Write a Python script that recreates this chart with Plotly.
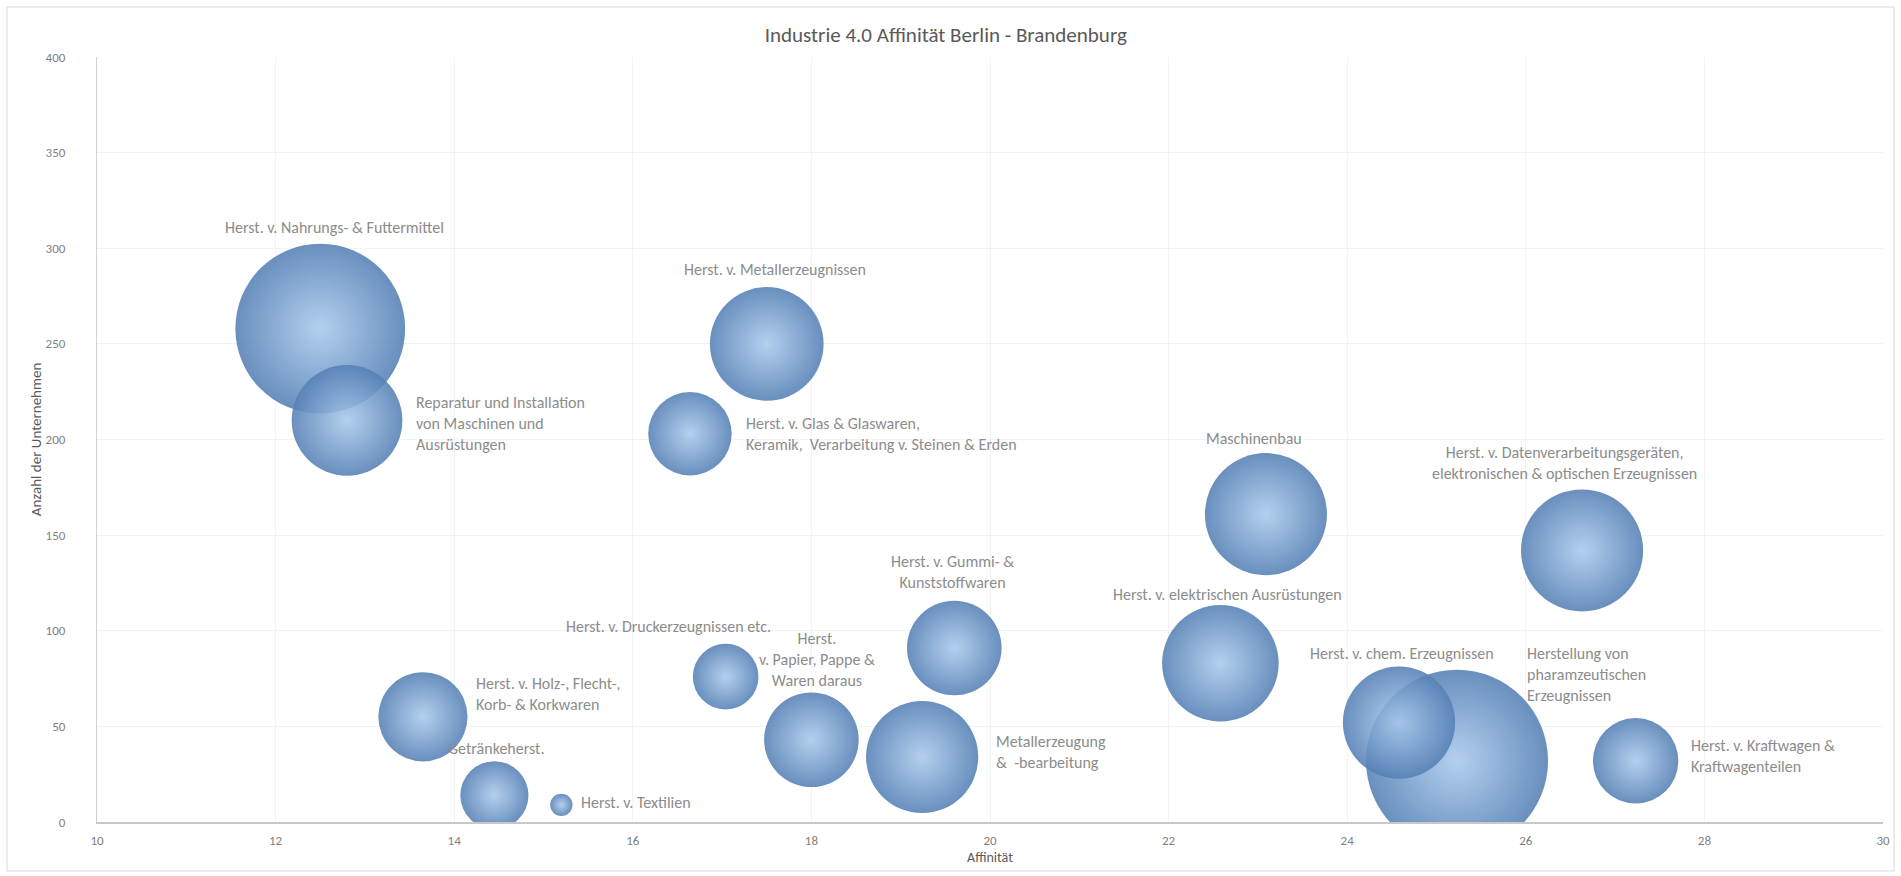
import plotly.graph_objects as go

# Branchen (Wirtschaftszweige) mit Affinität, Anzahl der Unternehmen und Blasengröße
branchen = [
    "Herstellung von<br>pharamzeutischen<br>Erzeugnissen",
    "Herst. v. Nahrungs- & Futtermittel",
    "Maschinenbau",
    "Herst. v. Datenverarbeitungsgeräten,<br>elektronischen & optischen Erzeugnissen",
    "Herst. v. elektrischen Ausrüstungen",
    "Herst. v. Metallerzeugnissen",
    "Metallerzeugung<br>&  -bearbeitung",
    "Herst. v. chem. Erzeugnissen",
    "Reparatur und Installation<br>von Maschinen und<br>Ausrüstungen",
    "Herst. v. Papier, Pappe &<br>Waren daraus",
    "Herst. v. Gummi- &<br>Kunststoffwaren",
    "Herst. v. Holz-, Flecht-,<br>Korb- & Korkwaren",
    "Herst. v. Kraftwagen &<br>Kraftwagenteilen",
    "Herst. v. Glas & Glaswaren,<br>Keramik,  Verarbeitung v. Steinen & Erden",
    "Getränkeherst.",
    "Herst. v. Druckerzeugnissen etc.",
    "Herst. v. Textilien",
]
affinitaet = [25.23, 12.50, 23.09, 26.63, 22.58, 17.50, 19.24, 24.58, 12.80,
              18.00, 19.60, 13.65, 27.23, 16.64, 14.45, 17.04, 15.20]
anzahl = [32, 258, 161, 142, 83, 250, 34, 52, 210,
          43, 91, 55, 32, 203, 14, 76, 9]
groesse = [100, 87, 45, 45, 41, 39, 38, 38, 37,
           27, 27, 24, 22, 21, 14, 13, 1.5]

# Label-Platzierung relativ zur Blase: (Anker, Versatz x in px, Versatz y in px)
label_pos = [
    ("left", 68, 86),
    ("center", 14, 101),
    ("center", -12, 76),
    ("center", -18, 87),
    ("center", 7, 69),
    ("center", 8, 74),
    ("left", 72, 5),
    ("center", 3, 69),
    ("left", 67, -3),
    ("center", 6, 80),
    ("center", -2, 76),
    ("left", 51, 23),
    ("left", 53, 5),
    ("left", 54, 0),
    ("center", 2, 47),
    ("center", -57, 50),
    ("left", 18, 2),
]
# Beim Papier-Label steht "Herst." in einer eigenen Zeile
label_text = list(branchen)
label_text[9] = "Herst.<br>v. Papier, Pappe &<br>Waren daraus"

FONT = "Calibri, Carlito, Lato, sans-serif"
MAX_D = 182  # Durchmesser der größten Blase in px

fig = go.Figure()
fig.add_trace(go.Scatter(
    x=affinitaet,
    y=anzahl,
    mode="markers",
    text=branchen,
    hoverinfo="text+x+y",
    cliponaxis=True,
    marker=dict(
        size=groesse,
        sizemode="area",
        sizeref=2.0 * max(groesse) / MAX_D ** 2,
        color="#5580b5",
        gradient=dict(type="radial", color="#a9c9ec"),
        opacity=0.88,
        line=dict(width=0),
    ),
    showlegend=False,
))

for txt, xv, yv, (anchor, dx, dy) in zip(label_text, affinitaet, anzahl, label_pos):
    fig.add_annotation(
        x=xv, y=yv, xref="x", yref="y",
        text=txt, showarrow=False,
        xanchor=anchor, yanchor="middle", align=anchor,
        xshift=dx, yshift=dy,
        font=dict(family=FONT, size=16, color="#8c8c8c"),
    )

fig.update_layout(
    width=1901, height=876,
    margin=dict(l=97, r=18, t=57, b=54),
    paper_bgcolor="white", plot_bgcolor="white",
    font=dict(family=FONT, color="#7f7f7f"),
    title=dict(
        text="Industrie 4.0 Affinität Berlin - Brandenburg",
        x=0.4975, xanchor="center", y=0.96, yanchor="middle",
        font=dict(family=FONT, size=21, color="#595959"),
    ),
    xaxis=dict(
        range=[10, 30], dtick=2, tick0=10,
        showgrid=True, gridcolor="#f3f3f3", gridwidth=1,
        zeroline=False, showline=True, linecolor="#c8c8c8", linewidth=1.5,
        ticks="", ticklabelstandoff=6,
        tickfont=dict(family=FONT, size=13, color="#7f7f7f"),
        title=dict(text="Affinität", standoff=5,
                   font=dict(family=FONT, size=14, color="#595959")),
    ),
    yaxis=dict(
        range=[0, 400], dtick=50, tick0=0,
        showgrid=True, gridcolor="#f3f3f3", gridwidth=1,
        zeroline=False, showline=True, linecolor="#d0d0d0", linewidth=1,
        ticks="", ticklabelstandoff=28,
        tickfont=dict(family=FONT, size=13, color="#7f7f7f"),
        title=dict(text="Anzahl der Unternehmen", standoff=0,
                   font=dict(family=FONT, size=15, color="#595959")),
    ),
    shapes=[dict(
        type="rect", xref="paper", yref="paper",
        x0=-0.0504, x1=1.0062, y0=-0.064, y1=1.0654,
        line=dict(color="#d9d9d9", width=1), fillcolor="rgba(0,0,0,0)",
        layer="below",
    )],
)

fig.write_html("out.html")
